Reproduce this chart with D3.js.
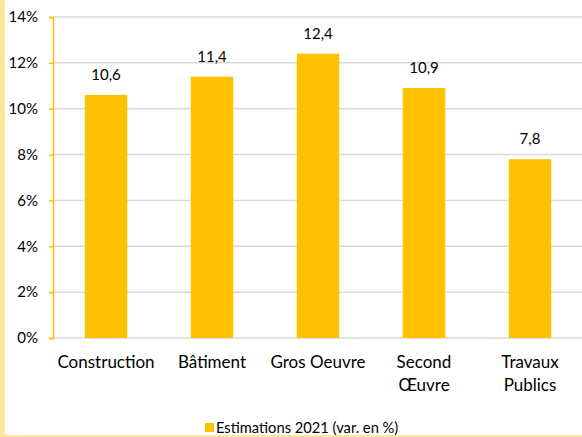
<!DOCTYPE html>
<html>
<head>
<meta charset="utf-8">
<style>
  body { margin: 0; background: #fff; font-family: Lato, "Open Sans", sans-serif; }
  svg { display: block; }
</style>
</head>
<body>
<div id="chart"></div>
<script src="https://cdn.jsdelivr.net/npm/d3@7"></script>
<script>
// data
var categories = ["Construction", "Bâtiment", "Gros Oeuvre", "Second Œuvre", "Travaux Publics"];
var categoryLines = [["Construction"], ["Bâtiment"], ["Gros Oeuvre"], ["Second", "Œuvre"], ["Travaux", "Publics"]];
var values = [10.6, 11.4, 12.4, 10.9, 7.8];
var yTicks = [0, 2, 4, 6, 8, 10, 12, 14];
var seriesName = "Estimations 2021 (var. en %)";

var width = 582, height = 437;
var gold = "#FFC000";

var svg = d3.select("#chart").append("svg")
    .attr("width", width)
    .attr("height", height);

// light yellow frame on left and bottom
svg.append("rect").attr("x", 0).attr("y", 0).attr("width", width).attr("height", height)
    .attr("fill", "#fff");
svg.append("rect").attr("x", 0).attr("y", 0).attr("width", 5).attr("height", height)
    .attr("fill", "#FFE699");
svg.append("rect").attr("x", 0).attr("y", 435).attr("width", width).attr("height", 2)
    .attr("fill", "#FFE699");

var x = d3.scaleBand()
    .domain(categories)
    .range([53, 583])
    .paddingInner(0.6)
    .paddingOuter(0.3);

var y = d3.scaleLinear()
    .domain([0, 14])
    .range([338, 17]);

// gridlines
svg.append("g").selectAll("line")
    .data(yTicks)
    .enter().append("line")
    .attr("x1", 53).attr("x2", width)
    .attr("y1", function (d) { return y(d); })
    .attr("y2", function (d) { return y(d); })
    .attr("stroke", "#D9D9D9")
    .attr("stroke-width", 1.5);

// y axis
var yAxis = svg.append("g")
    .attr("transform", "translate(53,0)")
    .call(d3.axisLeft(y).tickValues(yTicks).tickSize(4).tickPadding(11)
        .tickFormat(function (d) { return d + "%"; }));
yAxis.select(".domain").attr("stroke", gold).attr("stroke-width", 1.5);
yAxis.selectAll(".tick line").attr("stroke", gold).attr("stroke-width", 1.5);
yAxis.selectAll("text")
    .style("font-family", "Lato, sans-serif")
    .style("font-size", "15px")
    .attr("fill", "#000");

// bars
svg.append("g").selectAll("rect")
    .data(values)
    .enter().append("rect")
    .attr("x", function (d, i) { return x(categories[i]); })
    .attr("y", function (d) { return y(d); })
    .attr("width", x.bandwidth())
    .attr("height", function (d) { return y(0) - y(d); })
    .attr("fill", gold);

// value labels
svg.append("g").selectAll("text")
    .data(values)
    .enter().append("text")
    .attr("x", function (d, i) { return x(categories[i]) + x.bandwidth() / 2; })
    .attr("y", function (d) { return y(d) - 15; })
    .attr("text-anchor", "middle")
    .style("font-size", "15px")
    .text(function (d) { return d.toFixed(1).replace(".", ","); });

// category labels
var cat = svg.append("g").selectAll("text")
    .data(categoryLines)
    .enter().append("text")
    .attr("x", function (d, i) { return x(categories[i]) + x.bandwidth() / 2; })
    .attr("y", 368)
    .attr("text-anchor", "middle")
    .style("font-size", "17px");
cat.selectAll("tspan")
    .data(function (d) { return d; })
    .enter().append("tspan")
    .attr("x", function () { return this.parentNode.getAttribute("x"); })
    .attr("dy", function (d, i) { return i === 0 ? 0 : 23; })
    .text(function (d) { return d; });

// legend
var legend = svg.append("g").attr("transform", "translate(205,423)");
legend.append("rect").attr("width", 9).attr("height", 9).attr("fill", gold);
legend.append("text")
    .attr("x", 11).attr("y", 10)
    .style("font-size", "14.7px")
    .text(seriesName);
</script>
</body>
</html>
